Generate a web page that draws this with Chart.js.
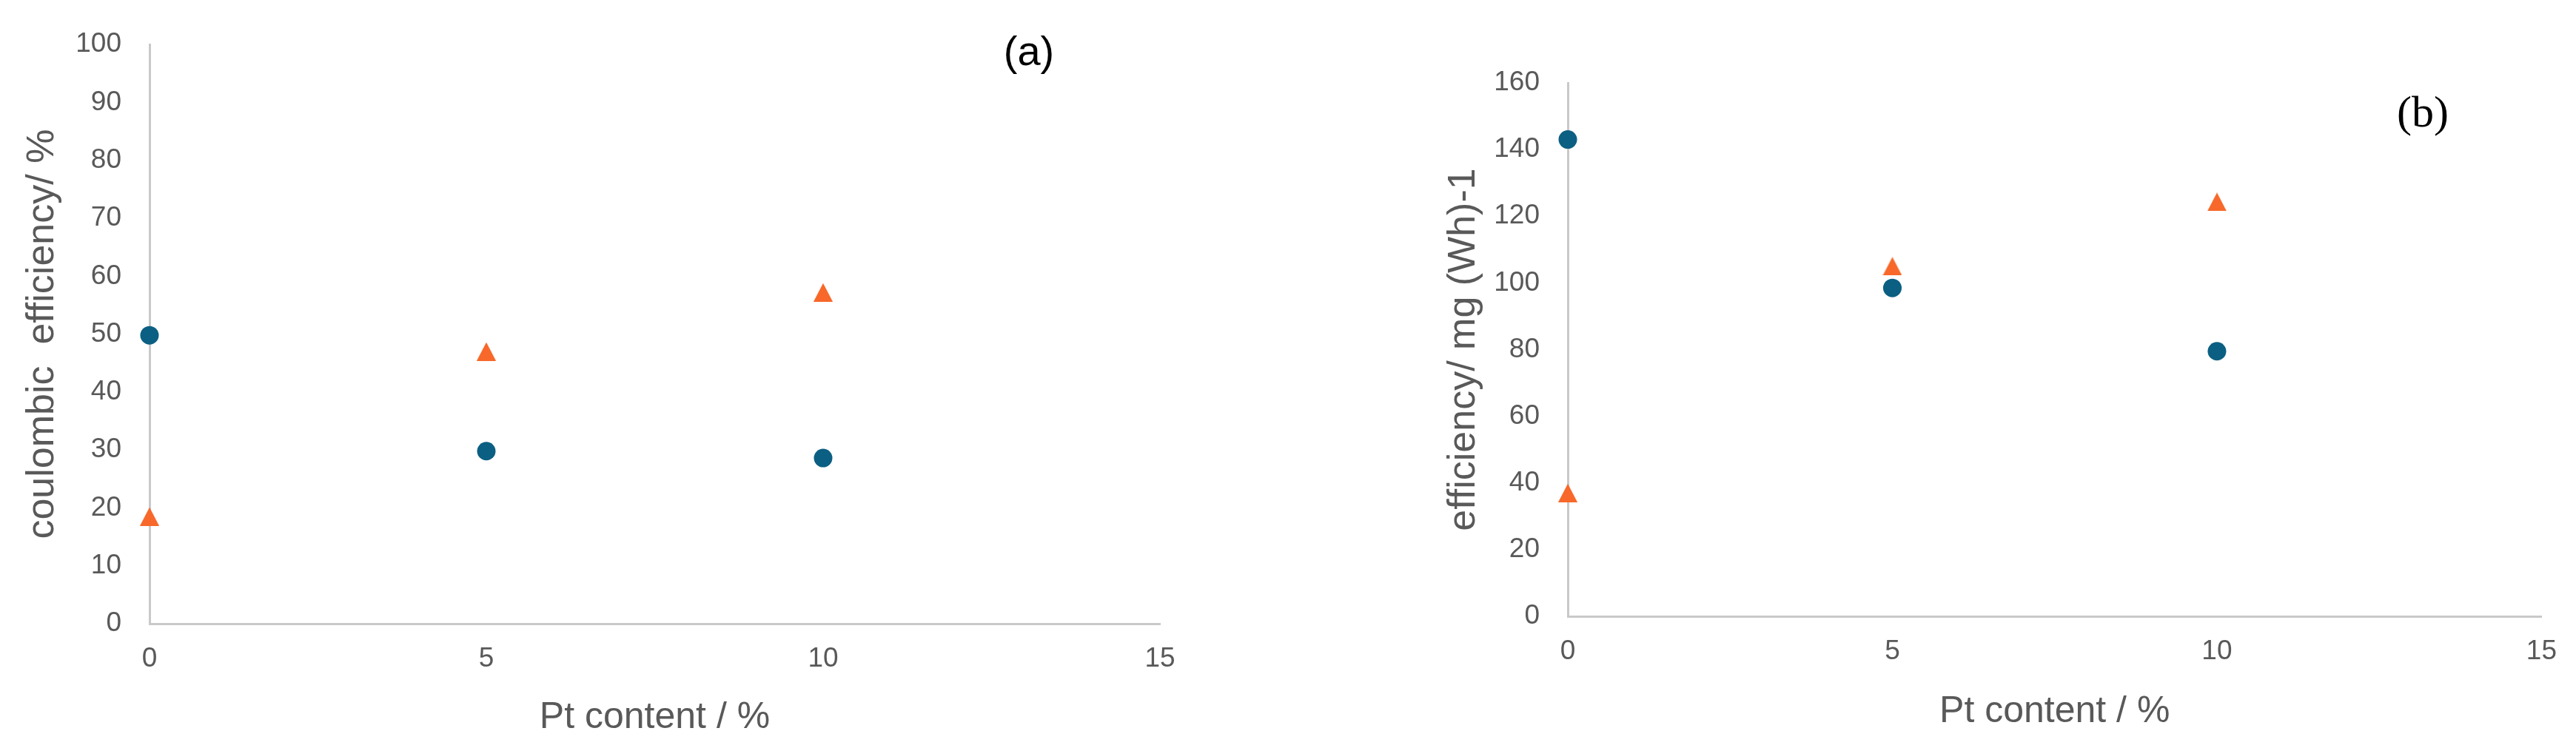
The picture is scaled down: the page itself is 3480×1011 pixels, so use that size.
<!DOCTYPE html>
<html>
<head>
<meta charset="utf-8">
<script src="https://cdn.jsdelivr.net/npm/chart.js@4.4.1/dist/chart.umd.min.js"></script>
<style>
  html, body { margin: 0; padding: 0; background: #fff; }
  body { width: 3480px; height: 1011px; position: relative; overflow: hidden; }
  .panel { position: absolute; top: 0; height: 1011px; }
  #panelA { left: 0; width: 1750px; }
  #panelB { left: 1900px; width: 1580px; }
  .tag { position: absolute; color: #000; line-height: 1; white-space: nowrap; transform: translate(-50%, -50%); }
  #tagA { left: 1390px; top: 68px; font: 56px "Liberation Sans", Arial, sans-serif; }
  #tagB { left: 3273px; top: 151px; font: 60px "Liberation Serif", "Times New Roman", serif; }
</style>
</head>
<body>
<div class="panel" id="panelA"><canvas id="chartA"></canvas></div>
<div class="panel" id="panelB"><canvas id="chartB"></canvas></div>
<div class="tag" id="tagA">(a)</div>
<div class="tag" id="tagB">(b)</div>
<script>
// Pt content (x) shared by both panels
const ptContent = [0, 5, 10];

// (a) coulombic efficiency / %
const coulombicCircles = [49.8, 29.8, 28.6];
const coulombicTriangles = [18.5, 47, 57.2];

// (b) efficiency / mg (Wh)-1
const effCircles = [143, 98.5, 79.5];
const effTriangles = [37, 105, 124.3];

// axis ranges / ticks
const xTicks = [0, 15, 5];        // min, max, step
const yTicksA = [0, 100, 10];
const yTicksB = [0, 160, 20];

const axisGray = "#595959";
const lineGray = "#c9c9c9";
const blue = "#0b5f82";
const orange = "#f7682a";

function pts(values) {
  return ptContent.map((x, i) => ({ x: x, y: values[i] }));
}

// Excel-style triangle marker: box centred on the point
function triangleMarker(color) {
  const c = document.createElement("canvas");
  c.width = 26;
  c.height = 25;
  const g = c.getContext("2d");
  g.fillStyle = color;
  g.beginPath();
  g.moveTo(13, 0);
  g.lineTo(26, 25);
  g.lineTo(0, 25);
  g.closePath();
  g.fill();
  return c;
}

function makeChart(canvasId, opts) {
  const ctx = document.getElementById(canvasId);
  return new Chart(ctx, {
    type: "scatter",
    data: {
      datasets: [
        {
          label: "circle",
          data: pts(opts.circles),
          pointStyle: "circle",
          pointRadius: 12.5,
          pointBackgroundColor: opts.blue,
          pointBorderWidth: 0,
          clip: false,
        },
        {
          label: "triangle",
          data: pts(opts.triangles),
          pointStyle: triangleMarker(opts.orange),
          pointRadius: 13,
          clip: false,
        },
      ],
    },
    options: {
      responsive: true,
      maintainAspectRatio: false,
      animation: false,
      events: [],
      layout: { padding: opts.padding },
      plugins: {
        legend: { display: false },
        tooltip: { enabled: false },
      },
      scales: {
        x: {
          type: "linear",
          min: xTicks[0],
          max: xTicks[1],
          grid: { display: false, drawTicks: false },
          border: { display: true, color: lineGray, width: 3 },
          ticks: {
            stepSize: xTicks[2],
            padding: 26,
            color: axisGray,
            font: { family: "'Liberation Sans', Arial, sans-serif", size: 37 },
          },
          title: {
            display: true,
            text: "Pt content / %",
            color: axisGray,
            font: { family: "'Liberation Sans', Arial, sans-serif", size: 50, lineHeight: 1.2 },
            padding: { top: 0, bottom: opts.xTitlePad },
          },
          afterFit: (scale) => { scale.height = opts.xHeight; },
        },
        y: {
          type: "linear",
          min: opts.yTicks[0],
          max: opts.yTicks[1],
          grid: { display: false, drawTicks: false },
          border: { display: true, color: lineGray, width: 3 },
          ticks: {
            stepSize: opts.yTicks[2],
            padding: 38,
            color: axisGray,
            font: { family: "'Liberation Sans', Arial, sans-serif", size: 37 },
          },
          title: {
            display: true,
            text: opts.yTitle,
            color: axisGray,
            font: { family: "'Liberation Sans', Arial, sans-serif", size: 52, lineHeight: 1.2 },
            padding: { top: opts.yTitlePad, bottom: 0 },
          },
          afterFit: (scale) => { scale.width = opts.yWidth; },
        },
      },
    },
  });
}

makeChart("chartA", {
  circles: coulombicCircles,
  triangles: coulombicTriangles,
  yTicks: yTicksA,
  yTitle: "coulombic  efficiency/ %",
  blue: blue,
  orange: orange,
  padding: { left: 0, top: 60, right: 183, bottom: 0 },
  yWidth: 202,
  xHeight: 168,
  yTitlePad: 26,
  xTitlePad: 11,
});

makeChart("chartB", {
  circles: effCircles,
  triangles: effTriangles,
  yTicks: yTicksB,
  yTitle: "efficiency/ mg (Wh)-1",
  blue: blue,
  orange: orange,
  padding: { left: 0, top: 112, right: 40, bottom: 0 },
  yWidth: 218,
  xHeight: 178,
  yTitlePad: 46,
  xTitlePad: 19,
});
</script>
</body>
</html>
